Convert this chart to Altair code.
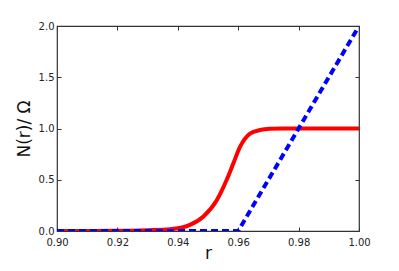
import altair as alt
import pandas as pd

red_r = [0.900, 0.920, 0.930, 0.9374, 0.9440, 0.9484, 0.9529, 0.9562, 0.9584,
         0.9606, 0.9639, 0.9672, 0.9705, 0.975, 1.000]
red_n = [0.000, 0.002, 0.008, 0.017, 0.060, 0.140, 0.300, 0.500, 0.660,
         0.820, 0.950, 0.985, 0.997, 1.000, 1.000]
blue_r = [0.90, 0.96, 1.00]
blue_n = [0.0, 0.0, 2.0]

red = pd.DataFrame({"r": red_r, "n": red_n})
blue = pd.DataFrame({"r": blue_r, "n": blue_n})

xs = alt.Scale(domain=[0.90, 1.00], nice=False, zero=False)
ys = alt.Scale(domain=[0.0, 2.0], nice=False)
xvals = [0.90, 0.92, 0.94, 0.96, 0.98, 1.00]
yvals = [0.0, 0.5, 1.0, 1.5, 2.0]

tick = {"expr": "-4"}

xaxis = alt.Axis(values=xvals, format=".2f", title="r", tickSize=tick,
                 labelPadding=10, labelFlush=False, titleY=27,
                 titleBaseline="alphabetic", grid=False, domain=False,
                 labelFontSize=10, titleFontSize=17, titleFontWeight="normal",
                 labelColor="#222", titleColor="#111", tickColor="#333",
                 labelFont="DejaVu Sans", titleFont="DejaVu Sans")
yaxis = alt.Axis(values=yvals, format=".1f", title="N(r)/ Ω", tickSize=tick,
                 labelPadding=7, labelFlush=False, titlePadding=5, grid=False,
                 domain=False,
                 labelFontSize=10, titleFontSize=17, titleFontWeight="normal",
                 labelColor="#222", titleColor="#111", tickColor="#333",
                 labelFont="DejaVu Sans", titleFont="DejaVu Sans")
xaxis_top = alt.Axis(values=xvals, orient="top", labels=False, title=None,
                     tickSize=tick, grid=False, domain=False, tickColor="#333")
yaxis_right = alt.Axis(values=yvals, orient="right", labels=False, title=None,
                       tickSize=tick, grid=False, domain=False, tickColor="#333")

red_line = alt.Chart(red).mark_line(color="#ff0000", strokeWidth=4,
                                    interpolate="monotone", clip=True).encode(
    x=alt.X("r:Q", scale=xs, axis=xaxis),
    y=alt.Y("n:Q", scale=ys, axis=yaxis),
)
blue_line = alt.Chart(blue).mark_line(color="#0000ff", strokeWidth=4,
                                      strokeDash=[7, 4], clip=True).encode(
    x=alt.X("r:Q", scale=xs, axis=xaxis_top),
    y=alt.Y("n:Q", scale=ys, axis=yaxis_right),
)

chart = alt.layer(red_line, blue_line).resolve_axis(
    x="independent", y="independent"
).properties(
    width=302, height=205,
    autosize=alt.AutoSizeParams(type="none"),
    padding={"left": 49, "top": 18, "right": 30, "bottom": 40},
).configure_view(stroke="#333", strokeWidth=1.2)

chart.save("out.html", embed_options={"renderer": "svg", "actions": False})
